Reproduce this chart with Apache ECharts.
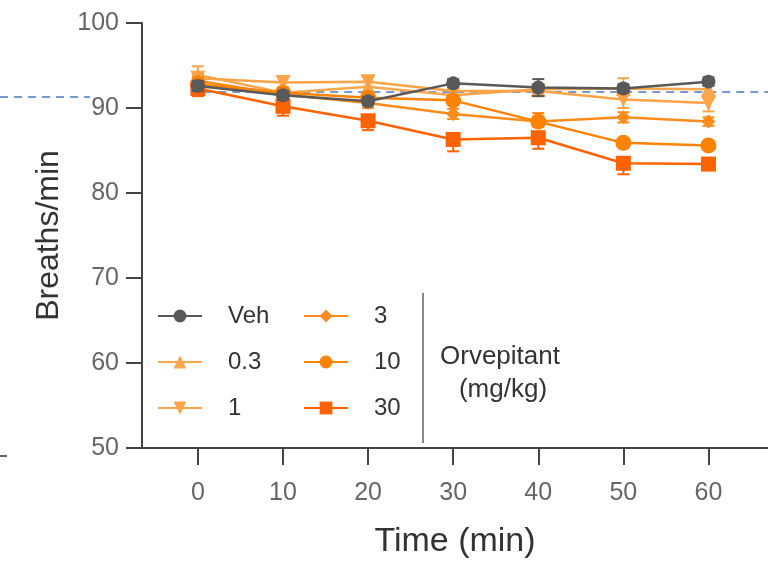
<!DOCTYPE html>
<html>
<head>
<meta charset="utf-8">
<script src="https://cdn.jsdelivr.net/npm/echarts@6/dist/echarts.min.js"></script>
<style>html,body{margin:0;padding:0;background:#fff;}#c{width:768px;height:570px;}</style>
</head>
<body>
<div id="c"></div>
<script>
// ---- data ----
const times = [0, 10, 20, 30, 40, 50, 60];
const xTicks = [0, 10, 20, 30, 40, 50, 60];
const yTicks = [50, 60, 70, 80, 90, 100];
const groups = ['Veh', '0.3', '1', '3', '10', '30'];
const vehMean = [92.6, 91.5, 90.8, 92.9, 92.4, 92.3, 93.1];
const vehErr  = [0.6, 0.5, 0.5, 0.5, 1.0, 0.5, 0.5];
const d03Mean = [93.9, 91.8, 92.5, 91.5, 92.2, 92.3, 92.2];
const d03Err  = [1.0, 0.6, 0.6, 0.6, 0.6, 1.2, 0.6];
const d1Mean  = [93.5, 93.0, 93.1, 92.0, 92.0, 91.0, 90.6];
const d1Err   = [0.8, 0.7, 0.6, 0.6, 0.6, 1.0, 1.0];
const d3Mean  = [93.2, 91.6, 90.6, 89.3, 88.4, 88.9, 88.4];
const d3Err   = [0.7, 0.6, 0.6, 0.6, 0.6, 0.6, 0.5];
const d10Mean = [92.8, 91.8, 91.2, 90.9, 88.4, 85.9, 85.6];
const d10Err  = [0.8, 0.6, 0.6, 0.6, 1.0, 0.5, 0.5];
const d30Mean = [92.3, 90.2, 88.5, 86.3, 86.5, 83.5, 83.4];
const d30Err  = [0.9, 1.1, 1.1, 1.4, 1.3, 1.3, 0.5];
const baseline = 91.9;

// ---- styles ----
const styles = {
  'Veh': {color: '#595959', symbol: 'circle', size: 14, rot: 0, dir: 'both', z: 10},
  '0.3': {color: '#F9A650', symbol: 'triangle', size: 15, rot: 0, dir: 'up', z: 4},
  '1':   {color: '#FFA347', symbol: 'triangle', size: 15, rot: 180, dir: 'down', z: 5},
  '3':   {color: '#FF8C1A', symbol: 'diamond', size: 14, rot: 0, dir: 'both', z: 6},
  '10':  {color: '#FF8200', symbol: 'circle', size: 16, rot: 0, dir: 'up', z: 7},
  '30':  {color: '#FF6200', symbol: 'rect', size: 15, rot: 0, dir: 'down', z: 8}
};
const means = {'Veh': vehMean, '0.3': d03Mean, '1': d1Mean, '3': d3Mean, '10': d10Mean, '30': d30Mean};
const errs  = {'Veh': vehErr, '0.3': d03Err, '1': d1Err, '3': d3Err, '10': d10Err, '30': d30Err};

const series = [];
groups.forEach(g => {
  const s = styles[g];
  series.push({
    name: g, type: 'line',
    data: times.map((t, i) => [t, means[g][i]]),
    symbol: s.symbol, symbolSize: s.size, symbolRotate: s.rot,
    lineStyle: {color: s.color, width: 2.5},
    itemStyle: {color: s.color},
    z: s.z + 1, animation: false
  });
  series.push({
    name: g + '_err', type: 'custom',
    data: times.map((t, i) => [t, means[g][i], errs[g][i]]),
    z: s.z, animation: false, silent: true,
    renderItem: function (params, api) {
      const t = api.value(0), m = api.value(1), e = api.value(2);
      const up = (s.dir === 'both' || s.dir === 'up') ? e : 0;
      const dn = (s.dir === 'both' || s.dir === 'down') ? e : 0;
      const hi = api.coord([t, m + up]);
      const lo = api.coord([t, m - dn]);
      const w = 6;
      const children = [{type: 'line', shape: {x1: hi[0], y1: hi[1], x2: lo[0], y2: lo[1]}, style: {stroke: s.color, lineWidth: 2}}];
      if (up > 0) children.push({type: 'line', shape: {x1: hi[0] - w, y1: hi[1], x2: hi[0] + w, y2: hi[1]}, style: {stroke: s.color, lineWidth: 2}});
      if (dn > 0) children.push({type: 'line', shape: {x1: lo[0] - w, y1: lo[1], x2: lo[0] + w, y2: lo[1]}, style: {stroke: s.color, lineWidth: 2}});
      return {type: 'group', children: children};
    }
  });
});
series.push({
  name: 'ref', type: 'line', data: [], silent: true, animation: false,
  markLine: {
    silent: true, symbol: 'none', label: {show: false},
    lineStyle: {color: '#4A78C4', width: 1.5, type: [8, 6]},
    data: [[{coord: [-0.9, baseline]}, {coord: [67, baseline]}]]
  }
});

const font = '"Liberation Sans", Arial, sans-serif';
const legendCommon = {
  orient: 'vertical', itemWidth: 44, itemHeight: 16, itemGap: 22, top: 299,
  textStyle: {fontFamily: font, fontSize: 24, color: '#333', padding: [0, 0, 0, 21]},
  selectedMode: false
};

const option = {
  backgroundColor: '#fff',
  animation: false,
  grid: {left: 142, right: 0, top: 23, bottom: 122, containLabel: false},
  legend: [
    Object.assign({}, legendCommon, {left: 152, data: groups.slice(0, 3)}),
    Object.assign({}, legendCommon, {left: 298, data: groups.slice(3)})
  ],
  xAxis: {
    type: 'value', min: -6.57, max: 67,
    name: 'Time (min)', nameLocation: 'middle', nameGap: 77,
    nameTextStyle: {fontFamily: font, fontSize: 34, color: '#333'},
    axisLine: {show: true, onZero: false, lineStyle: {color: '#444', width: 2}},
    axisTick: {show: true, length: 17, lineStyle: {color: '#444', width: 2}, customValues: xTicks},
    axisLabel: {fontFamily: font, fontSize: 25, color: '#666', margin: 33, customValues: xTicks},
    splitLine: {show: false}
  },
  yAxis: {
    type: 'value', min: 50, max: 100, interval: 10,
    name: 'Breaths/min', nameLocation: 'middle', nameGap: 77, nameRotate: 90,
    nameTextStyle: {fontFamily: font, fontSize: 32, color: '#333'},
    axisLine: {show: true, onZero: false, lineStyle: {color: '#444', width: 2}},
    axisTick: {show: true, length: 16, lineStyle: {color: '#444', width: 2}},
    axisLabel: {fontFamily: font, fontSize: 25, color: '#666', margin: 23, customValues: yTicks},
    splitLine: {show: false}
  },
  graphic: [
    {type: 'line', shape: {x1: 0, y1: 97, x2: 90, y2: 97}, style: {stroke: '#4A78C4', lineWidth: 1.5, lineDash: [8, 6]}},
    {type: 'line', shape: {x1: 0, y1: 456, x2: 7, y2: 456}, style: {stroke: '#333', lineWidth: 1.5}},
    {type: 'line', shape: {x1: 423, y1: 293, x2: 423, y2: 443}, style: {stroke: '#888', lineWidth: 2}},
    {type: 'text', x: 500, y: 357, style: {text: 'Orvepitant', fontFamily: font, fontSize: 26, fill: '#333', align: 'center', verticalAlign: 'middle'}},
    {type: 'text', x: 503, y: 390, style: {text: '(mg/kg)', fontFamily: font, fontSize: 26, fill: '#333', align: 'center', verticalAlign: 'middle'}}
  ],
  series: series
};
const chart = echarts.init(document.getElementById('c'), null, {renderer: 'canvas'});
chart.setOption(option);
</script>
</body>
</html>
